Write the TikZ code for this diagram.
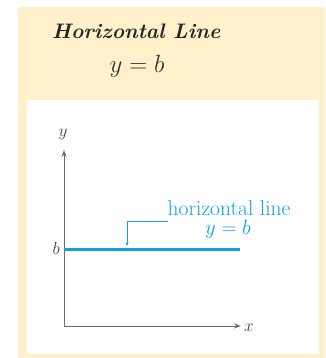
\documentclass[tikz,border=0pt]{standalone}
\usetikzlibrary{arrows.meta}
\definecolor{beige}{RGB}{254,240,202}
\definecolor{lineblue}{RGB}{20,160,222}
\definecolor{axisgray}{RGB}{110,110,110}
\begin{document}
\begin{tikzpicture}[x=1pt,y=-1pt,
  axis/.style={draw=axisgray,line width=0.9pt,-{Stealth[length=7pt,width=5pt]}},
  lbl/.style={text=black!75,inner sep=0pt,font=\fontsize{19}{19}\selectfont},
  bluetext/.style={text=lineblue,inner sep=0pt,font=\fontsize{21.5}{21.5}\selectfont}]
\useasboundingbox (0,0) rectangle (325,358);
\fill[beige] (18,7) rectangle (325,358);
\fill[white] (27,100) rectangle (319,354);
\node[anchor=west,inner sep=0pt,font=\fontsize{21}{21}\selectfont\bfseries\itshape,text=black!85] (title) at (52,31) {Horizontal Line};
\node[inner sep=0pt,font=\fontsize{25}{25}\selectfont,text=black!80] (eq) at (137,66) {$y = b$};
\coordinate (O) at (64,326);
\coordinate (Ytip) at (64,150);
\coordinate (Xtip) at (241,326);
\draw[axis] (O) -- (Ytip);
\draw[axis] (O) -- (Xtip);
\node[lbl] (ylab) at (63,134) {$y$};
\node[lbl,anchor=west] (xlab) at (244,328) {$x$};
\coordinate (L1) at (64,249);
\coordinate (L2) at (240,249);
\draw[lineblue,line width=3pt] (L1) -- (L2);
\node[lbl,anchor=east] (blab) at (60,248) {$b$};
\node[bluetext] (hl) at (229,208) {horizontal line};
\node[bluetext] (yb) at (228,229) {$y = b$};
\coordinate (K) at (127,221);
\coordinate (T) at (127,246);
\draw[lineblue,line width=0.6pt,-{Stealth[length=4pt,width=3pt]}] (hl.west |- K) ++(1,0) -- (K) -- (T);
\end{tikzpicture}
\end{document}
